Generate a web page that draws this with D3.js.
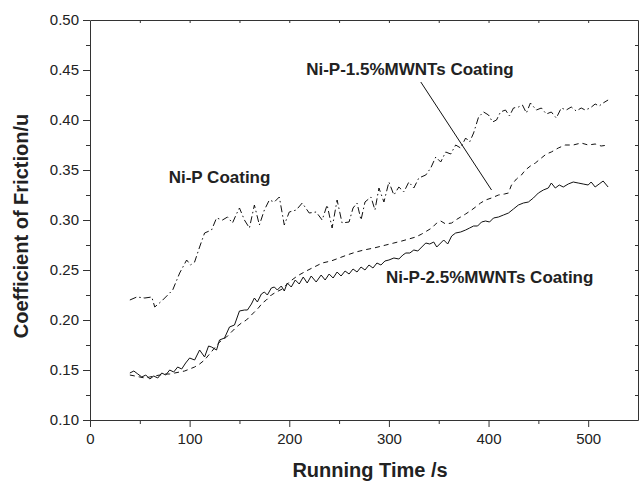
<!DOCTYPE html>
<html>
<head>
<meta charset="utf-8">
<script src="https://cdn.jsdelivr.net/npm/d3@7"></script>
<style>
  body { margin: 0; background: #fff; }
  text { font-family: Arial, "Liberation Sans", sans-serif; fill: #222; }
  .tick line, .domain { stroke: #333; }
</style>
</head>
<body>
<script>
// Ni-P coating (dash-dot)
const nipTime = [40,47,55,62,65,72,77,83,90,97,101,105,110,115,122,127,133,138,143,147,150,155,160,165,170,175,180,185,190,195,200,207,213,220,227,233,238,243,248,253,260,264,268,272,276,282,286,290,295,300,305,310,315,320,325,330,337,342,347,352,357,362,367,372,377,381,385,390,395,400,404,408,412,417,421,425,430,434,438,442,448,453,458,463,468,473,478,483,488,493,497,502,507,511,515,520];
const nipCof = [0.220,0.223,0.222,0.223,0.213,0.219,0.224,0.230,0.247,0.260,0.255,0.258,0.273,0.287,0.290,0.302,0.300,0.303,0.297,0.306,0.312,0.300,0.292,0.315,0.295,0.310,0.320,0.318,0.323,0.295,0.308,0.310,0.317,0.307,0.308,0.300,0.315,0.292,0.320,0.297,0.298,0.312,0.317,0.300,0.318,0.323,0.310,0.332,0.318,0.338,0.325,0.333,0.328,0.338,0.332,0.342,0.345,0.352,0.363,0.358,0.368,0.366,0.375,0.372,0.382,0.378,0.387,0.403,0.408,0.405,0.398,0.400,0.408,0.410,0.404,0.412,0.413,0.415,0.407,0.417,0.410,0.412,0.406,0.408,0.402,0.412,0.410,0.413,0.409,0.412,0.410,0.412,0.416,0.414,0.417,0.420];

// Ni-P-1.5%MWNTs coating (dashed)
const mw15Time = [40,45,50,55,60,65,70,75,80,85,90,95,100,105,110,115,120,125,130,137,142,147,152,157,161,165,169,173,177,182,187,193,200,208,217,225,233,242,250,258,267,275,285,297,305,313,320,327,333,338,343,348,352,357,363,367,372,377,383,387,392,397,403,410,416,420,423,428,433,437,442,447,453,458,463,470,477,485,493,500,507,513,520];
const mw15Cof = [0.145,0.144,0.143,0.142,0.143,0.144,0.145,0.146,0.146,0.147,0.148,0.149,0.151,0.153,0.156,0.160,0.166,0.172,0.178,0.183,0.188,0.193,0.197,0.200,0.204,0.208,0.212,0.217,0.220,0.225,0.228,0.231,0.238,0.244,0.249,0.253,0.257,0.259,0.262,0.265,0.268,0.270,0.272,0.275,0.277,0.279,0.281,0.283,0.286,0.289,0.292,0.297,0.299,0.296,0.297,0.300,0.303,0.306,0.310,0.313,0.317,0.320,0.322,0.325,0.326,0.327,0.335,0.341,0.345,0.350,0.354,0.357,0.362,0.366,0.368,0.372,0.375,0.375,0.377,0.375,0.376,0.374,0.375];

// Ni-P-2.5%MWNTs coating (solid)
const mw25Time = [40,44,48,52,56,60,64,68,72,76,80,84,88,92,96,100,105,110,115,119,122,127,130,135,140,145,150,155,158,162,165,168,172,175,178,182,185,188,192,195,198,202,206,210,214,218,222,227,232,236,240,244,248,252,256,260,264,268,272,276,280,284,288,292,296,300,305,310,314,317,321,325,329,333,337,341,345,348,351,355,359,363,367,372,377,381,385,389,393,397,401,405,410,415,420,425,430,435,440,445,450,455,460,463,467,471,475,480,485,490,495,500,503,507,511,515,520];
const mw25Cof = [0.147,0.149,0.146,0.143,0.145,0.141,0.144,0.142,0.147,0.145,0.150,0.148,0.153,0.151,0.157,0.162,0.160,0.170,0.163,0.174,0.173,0.170,0.180,0.182,0.193,0.195,0.209,0.210,0.210,0.216,0.222,0.218,0.226,0.228,0.225,0.232,0.233,0.230,0.234,0.229,0.237,0.233,0.240,0.236,0.243,0.237,0.244,0.238,0.245,0.240,0.246,0.242,0.248,0.244,0.249,0.246,0.251,0.248,0.253,0.250,0.255,0.252,0.257,0.255,0.259,0.260,0.262,0.261,0.265,0.267,0.267,0.270,0.269,0.273,0.277,0.276,0.278,0.273,0.276,0.280,0.276,0.284,0.287,0.288,0.290,0.292,0.294,0.294,0.298,0.299,0.298,0.302,0.303,0.305,0.307,0.311,0.315,0.317,0.318,0.322,0.327,0.330,0.332,0.337,0.332,0.335,0.333,0.336,0.338,0.337,0.336,0.335,0.338,0.333,0.336,0.339,0.333];

const xTicks = [0, 100, 200, 300, 400, 500];
const yTicks = [0.10, 0.15, 0.20, 0.25, 0.30, 0.35, 0.40, 0.45, 0.50];

const margin = { top: 20, right: 2, bottom: 64, left: 90 };
const width = 640 - margin.left - margin.right;
const height = 484 - margin.top - margin.bottom;

const svg = d3.select('body').append('svg')
    .attr('width', 640)
    .attr('height', 484)
  .append('g')
    .attr('transform', `translate(${margin.left}, ${margin.top})`);

const x = d3.scaleLinear().domain([0, 550]).range([0, width]);
const y = d3.scaleLinear().domain([0.10, 0.50]).range([height, 0]);

// minor ticks first, then labelled ones
svg.append('g')
    .attr('transform', `translate(0, ${height})`)
    .call(d3.axisBottom(x).tickValues(d3.range(50, 550, 100)).tickSize(4).tickFormat(''))
    .call(g => g.select('.domain').remove());
svg.append('g')
    .attr('class', 'x-axis')
    .attr('transform', `translate(0, ${height})`)
    .call(d3.axisBottom(x).tickValues(xTicks).tickSize(7).tickPadding(6).tickSizeOuter(0))
    .selectAll('text').style('font-size', '15px');

svg.append('g')
    .call(d3.axisLeft(y).tickValues(d3.range(0.125, 0.5, 0.05)).tickSize(4).tickFormat(''))
    .call(g => g.select('.domain').remove());
svg.append('g')
    .attr('class', 'y-axis')
    .call(d3.axisLeft(y).tickValues(yTicks).tickSize(7).tickPadding(4).tickSizeOuter(0).tickFormat(d3.format('.2f')))
    .selectAll('text').style('font-size', '15px');

// mirror axes
svg.append('g')
    .call(d3.axisTop(x).tickValues(d3.range(50, 550, 50)).tickSize(-3).tickFormat('').tickSizeOuter(0));
svg.append('g')
    .attr('transform', `translate(${width}, 0)`)
    .call(d3.axisRight(y).tickValues(d3.range(0.125, 0.5, 0.025)).tickSize(-3).tickFormat('').tickSizeOuter(0));

const line = d3.line()
    .x(d => x(d[0]))
    .y(d => y(d[1]));

const series = [
    { time: nipTime, cof: nipCof, dash: '7,3,1.5,3' },
    { time: mw15Time, cof: mw15Cof, dash: '5,4' },
    { time: mw25Time, cof: mw25Cof, dash: null }
];

svg.selectAll('.curve')
    .data(series)
    .enter()
    .append('path')
    .attr('class', 'curve')
    .attr('d', s => line(s.time.map((t, i) => [t, s.cof[i]])))
    .attr('fill', 'none')
    .attr('stroke', '#111')
    .attr('stroke-width', 1)
    .attr('stroke-dasharray', s => s.dash);

// labels
const labelStyle = sel => sel
    .style('font-size', '17px')
    .style('font-weight', 'bold');

svg.append('text').attr('x', x(79)).attr('y', y(0.337)).text('Ni-P Coating').call(labelStyle);
svg.append('text').attr('x', x(217)).attr('y', y(0.445)).text('Ni-P-1.5%MWNTs Coating').call(labelStyle);
svg.append('text').attr('x', x(297)).attr('y', y(0.237)).text('Ni-P-2.5%MWNTs Coating').call(labelStyle);

svg.append('line')
    .attr('x1', x(332)).attr('y1', y(0.438))
    .attr('x2', x(403)).attr('y2', y(0.330))
    .attr('stroke', '#111')
    .attr('stroke-width', 1);

svg.append('text')
    .attr('x', width / 2 + 6)
    .attr('y', height + 57)
    .attr('text-anchor', 'middle')
    .style('font-size', '20px')
    .style('font-weight', 'bold')
    .text('Running Time /s');

svg.append('text')
    .attr('transform', `translate(${-62}, ${height / 2 + 6}) rotate(-90)`)
    .attr('text-anchor', 'middle')
    .style('font-size', '20px')
    .style('font-weight', 'bold')
    .text('Coefficient of Friction/u');
</script>
</body>
</html>
